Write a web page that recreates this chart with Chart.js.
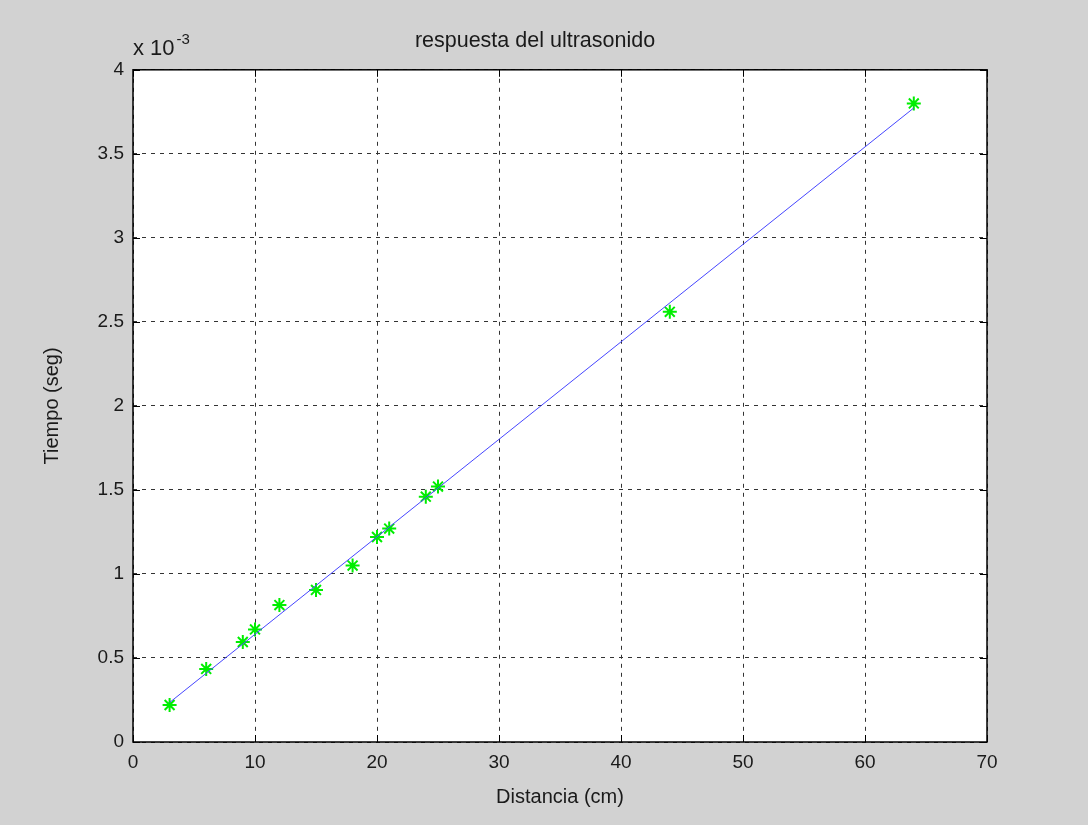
<!DOCTYPE html>
<html>
<head>
<meta charset="utf-8">
<script src="https://cdn.jsdelivr.net/npm/chart.js@4.4.1/dist/chart.umd.min.js"></script>
<style>
    html, body { margin: 0; padding: 0; background: #d2d2d2; }
    #wrap { width: 1088px; height: 825px; }
</style>
</head>
<body>
<div id="wrap"><canvas id="chart"></canvas></div>
<script>
// Measured points: distance (cm) and time (in units of 10^-3 s)
const distancia = [3, 6, 9, 10, 12, 15, 18, 20, 21, 24, 25, 44, 64];
const tiempo = [0.22, 0.435, 0.595, 0.67, 0.815, 0.905, 1.05, 1.22, 1.27, 1.46, 1.52, 2.56, 3.80];

// Fitted line endpoints
const ajusteX = [3, 64];
const ajusteY = [0.235, 3.773];

// Tick labels
const xTicks = [0, 10, 20, 30, 40, 50, 60, 70];
const yTicks = [0, 0.5, 1, 1.5, 2, 2.5, 3, 3.5, 4];

const tickFont = { family: "'Liberation Sans', Arial, sans-serif", size: 19 };
const labelFont = { family: "'Liberation Sans', Arial, sans-serif", size: 20, weight: 'normal' };
const titleFont = { family: "'Liberation Sans', Arial, sans-serif", size: 21.5, weight: 'normal' };

// Gray figure background and white axes background
const backgroundPlugin = {
    id: 'background',
    beforeDraw(chart) {
        const { ctx, chartArea } = chart;
        ctx.save();
        ctx.fillStyle = '#d2d2d2';
        ctx.fillRect(0, 0, chart.width, chart.height);
        ctx.fillStyle = '#ffffff';
        ctx.fillRect(chartArea.left, chartArea.top, chartArea.right - chartArea.left, chartArea.bottom - chartArea.top);
        ctx.restore();
    }
};

// Box round the axes, inner tick marks and the "x 10^-3" exponent
const boxPlugin = {
    id: 'box',
    afterDraw(chart) {
        const { ctx, chartArea, scales } = chart;
        const { left, right, top, bottom } = chartArea;
        ctx.save();
        ctx.strokeStyle = '#000000';
        ctx.lineWidth = 1;
        ctx.beginPath();
        xTicks.forEach(v => {
            const px = Math.round(scales.x.getPixelForValue(v)) + 0.5;
            ctx.moveTo(px, bottom); ctx.lineTo(px, bottom - 7);
            ctx.moveTo(px, top); ctx.lineTo(px, top + 7);
        });
        yTicks.forEach(v => {
            const py = Math.round(scales.y.getPixelForValue(v)) + 0.5;
            ctx.moveTo(left, py); ctx.lineTo(left + 7, py);
            ctx.moveTo(right, py); ctx.lineTo(right - 7, py);
        });
        ctx.stroke();
        ctx.lineWidth = 1.5;
        ctx.strokeRect(left, top, right - left, bottom - top);

        // exponent label
        ctx.fillStyle = '#1a1a1a';
        ctx.textBaseline = 'alphabetic';
        ctx.textAlign = 'left';
        ctx.font = "22px 'Liberation Sans', Arial, sans-serif";
        ctx.fillText('x 10', left, 55);
        const w = ctx.measureText('x 10').width;
        ctx.font = "15px 'Liberation Sans', Arial, sans-serif";
        ctx.fillText('-3', left + w + 2, 44);
        ctx.restore();
    }
};

const ctx = document.getElementById('chart');

new Chart(ctx, {
    type: 'scatter',
    data: {
        datasets: [
            {
                // Fitted line, drawn on top of the markers
                label: 'ajuste',
                data: ajusteX.map((x, i) => ({ x: x, y: ajusteY[i] })),
                showLine: true,
                borderColor: 'rgb(70, 70, 255)',
                borderWidth: 1,
                pointRadius: 0,
                order: 0
            },
            {
                // Measured points as green asterisks
                label: 'medidas',
                data: distancia.map((x, i) => ({ x: x, y: tiempo[i] })),
                pointStyle: 'star',
                pointRadius: 7,
                borderColor: '#00ee00',
                backgroundColor: '#00ee00',
                borderWidth: 2,
                order: 1
            }
        ]
    },
    options: {
        responsive: true,
        maintainAspectRatio: false,
        animation: false,
        // left padding keeps the title centred where the reference has it
        layout: {
            padding: { left: 83, right: 101, top: 0, bottom: 0 }
        },
        plugins: {
            legend: { display: false },
            tooltip: { enabled: false },
            title: {
                display: true,
                text: 'respuesta del ultrasonido',
                color: '#1a1a1a',
                font: titleFont,
                padding: { top: 28, bottom: 16 }
            }
        },
        scales: {
            x: {
                type: 'linear',
                min: 0,
                max: 70,
                afterBuildTicks: axis => { axis.ticks = xTicks.map(v => ({ value: v })); },
                afterFit: axis => { axis.height = 83; },
                grid: {
                    color: '#333333',
                    lineWidth: 1,
                    drawTicks: false
                },
                border: { display: false, dash: [4, 5] },
                ticks: { color: '#1a1a1a', font: tickFont, padding: 9, maxRotation: 0, callback: v => String(v) },
                title: {
                    display: true,
                    text: 'Distancia (cm)',
                    color: '#1a1a1a',
                    font: labelFont,
                    padding: { top: 0, bottom: 16 }
                }
            },
            y: {
                type: 'linear',
                min: 0,
                max: 4,
                afterBuildTicks: axis => { axis.ticks = yTicks.map(v => ({ value: v })); },
                afterFit: axis => { axis.width = 50; },
                grid: {
                    color: '#333333',
                    lineWidth: 1,
                    drawTicks: false
                },
                border: { display: false, dash: [4, 5] },
                ticks: { color: '#1a1a1a', font: tickFont, padding: 9, callback: v => String(v) },
                title: {
                    display: true,
                    text: 'Tiempo (seg)',
                    color: '#1a1a1a',
                    font: labelFont,
                    padding: { top: -43, bottom: 0 }
                }
            }
        }
    },
    plugins: [backgroundPlugin, boxPlugin]
});
</script>
</body>
</html>
